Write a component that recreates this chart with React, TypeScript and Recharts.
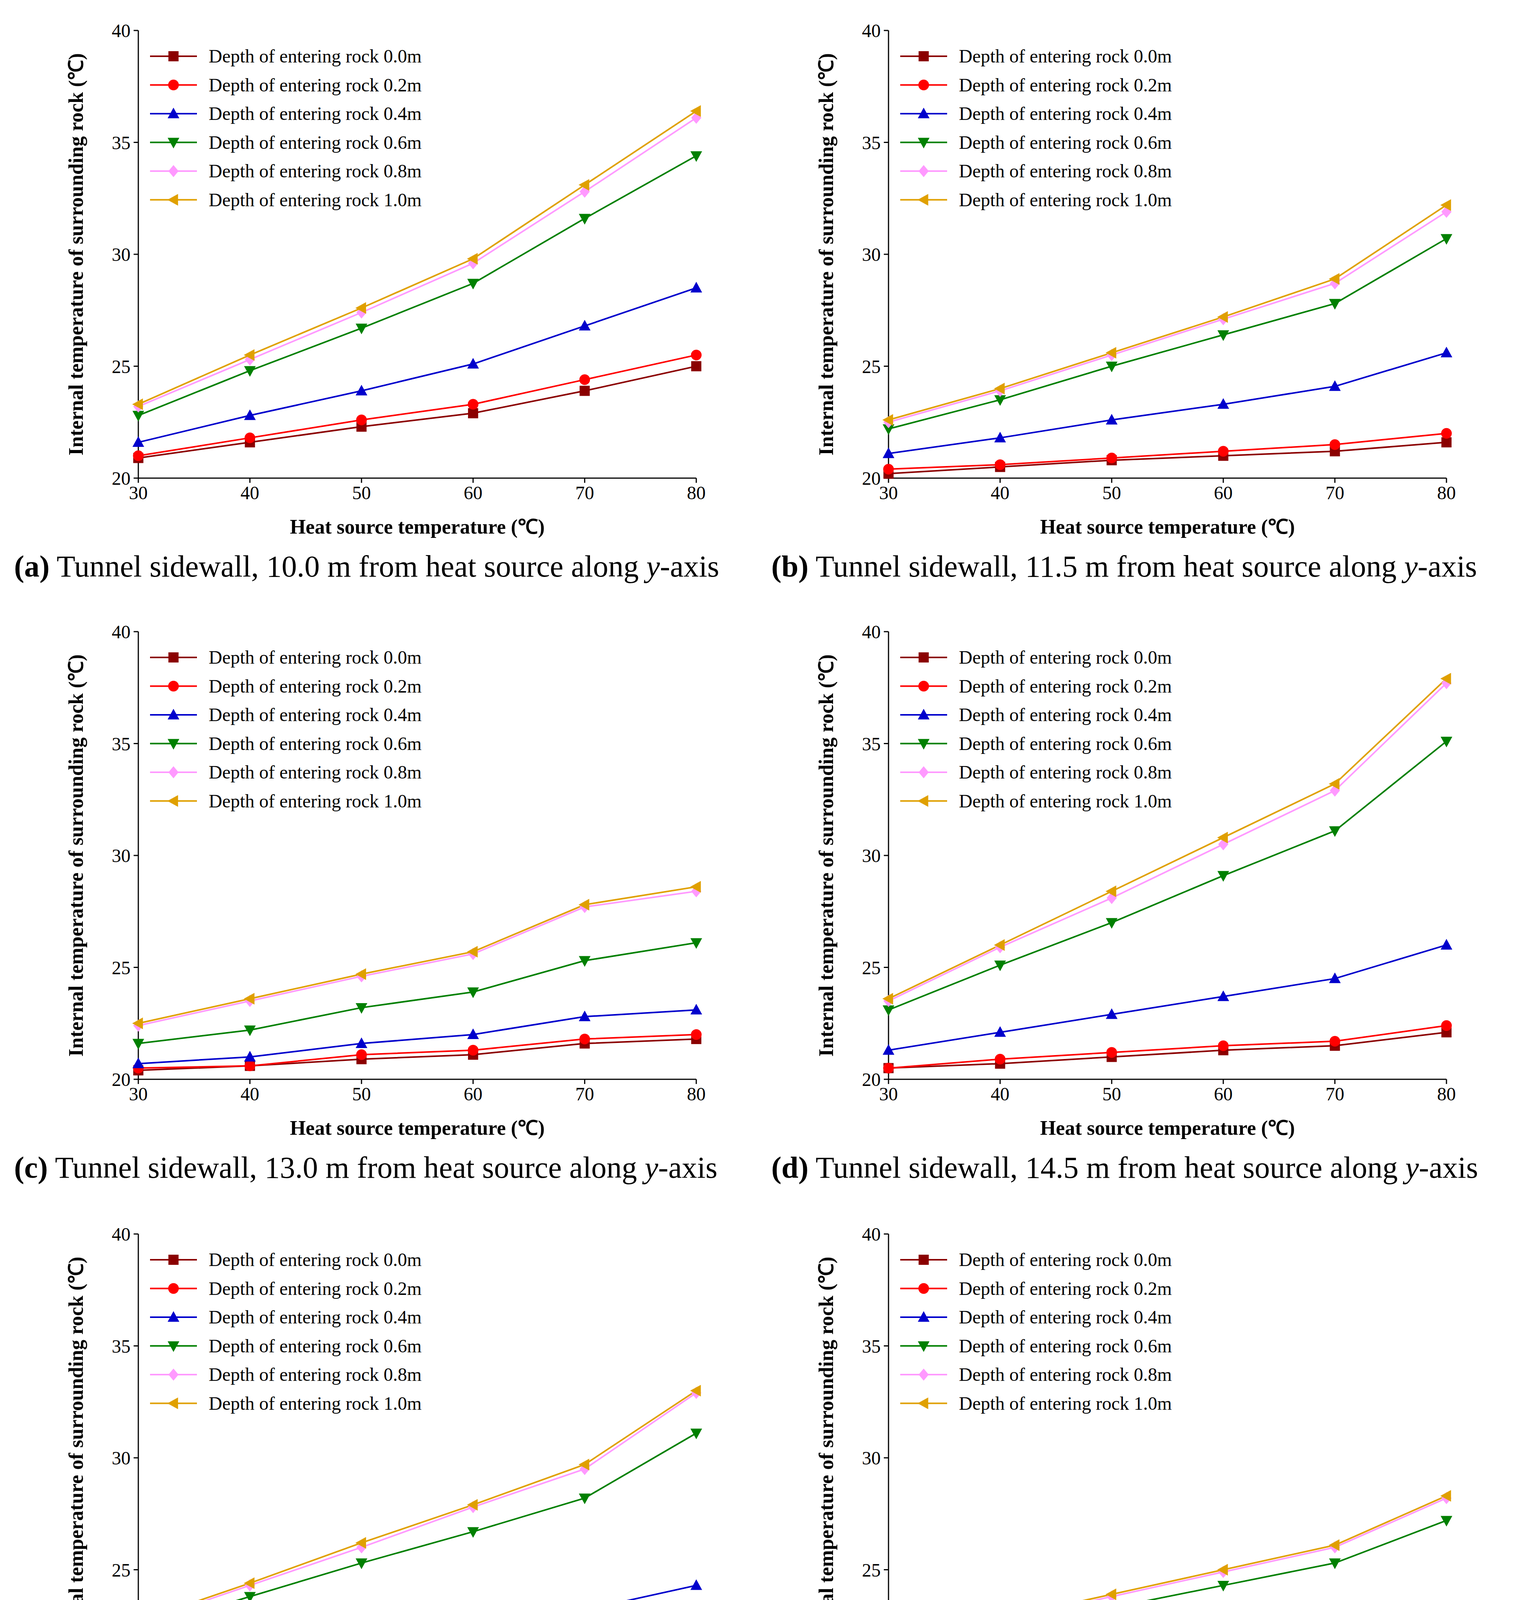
import React from 'react';
import { LineChart, Line, XAxis, YAxis, Label } from 'recharts';

const xTemps = [30, 40, 50, 60, 70, 80];
const depthNames = ['Depth of entering rock 0.0m', 'Depth of entering rock 0.2m', 'Depth of entering rock 0.4m', 'Depth of entering rock 0.6m', 'Depth of entering rock 0.8m', 'Depth of entering rock 1.0m'];
const colors = ['#8B0000', '#FF0000', '#0000CC', '#008000', '#FF99FF', '#E0A000'];
const shapes = ['square', 'circle', 'up', 'down', 'diamond', 'left'];
const yTicks = [20, 25, 30, 35, 40];

const panelA = [
  [20.9, 21.6, 22.3, 22.9, 23.9, 25.0],
  [21.0, 21.8, 22.6, 23.3, 24.4, 25.5],
  [21.6, 22.8, 23.9, 25.1, 26.8, 28.5],
  [22.8, 24.8, 26.7, 28.7, 31.6, 34.4],
  [23.2, 25.3, 27.4, 29.6, 32.8, 36.1],
  [23.3, 25.5, 27.6, 29.8, 33.1, 36.4],
];
const panelB = [
  [20.2, 20.5, 20.8, 21.0, 21.2, 21.6],
  [20.4, 20.6, 20.9, 21.2, 21.5, 22.0],
  [21.1, 21.8, 22.6, 23.3, 24.1, 25.6],
  [22.2, 23.5, 25.0, 26.4, 27.8, 30.7],
  [22.5, 23.9, 25.5, 27.1, 28.7, 31.9],
  [22.6, 24.0, 25.6, 27.2, 28.9, 32.2],
];
const panelC = [
  [20.4, 20.6, 20.9, 21.1, 21.6, 21.8],
  [20.5, 20.6, 21.1, 21.3, 21.8, 22.0],
  [20.7, 21.0, 21.6, 22.0, 22.8, 23.1],
  [21.6, 22.2, 23.2, 23.9, 25.3, 26.1],
  [22.4, 23.5, 24.6, 25.6, 27.7, 28.4],
  [22.5, 23.6, 24.7, 25.7, 27.8, 28.6],
];
const panelD = [
  [20.5, 20.7, 21.0, 21.3, 21.5, 22.1],
  [20.5, 20.9, 21.2, 21.5, 21.7, 22.4],
  [21.3, 22.1, 22.9, 23.7, 24.5, 26.0],
  [23.1, 25.1, 27.0, 29.1, 31.1, 35.1],
  [23.5, 25.9, 28.1, 30.5, 32.9, 37.7],
  [23.6, 26.0, 28.4, 30.8, 33.2, 37.9],
];
const panelE = [
  [20.4, 20.6, 20.8, 21.1, 21.3, 21.7],
  [20.5, 20.7, 20.9, 21.2, 21.4, 21.9],
  [20.9, 21.5, 22.0, 22.6, 23.2, 24.3],
  [22.3, 23.8, 25.3, 26.7, 28.2, 31.1],
  [22.6, 24.3, 26.0, 27.8, 29.5, 32.9],
  [22.7, 24.4, 26.2, 27.9, 29.7, 33.0],
];
const panelF = [
  [20.3, 20.5, 20.7, 20.9, 21.2, 21.6],
  [20.4, 20.6, 20.8, 21.1, 21.3, 21.8],
  [20.7, 21.1, 21.6, 22.0, 22.5, 23.3],
  [21.5, 22.4, 23.3, 24.3, 25.3, 27.2],
  [21.7, 22.7, 23.8, 24.9, 26.0, 28.2],
  [21.7, 22.8, 23.9, 25.0, 26.1, 28.3],
];
const captions = [
  ['(a)', ' Tunnel sidewall, 10.0 m from heat source along '],
  ['(b)', ' Tunnel sidewall, 11.5 m from heat source along '],
  ['(c)', ' Tunnel sidewall, 13.0 m from heat source along '],
  ['(d)', ' Tunnel sidewall, 14.5 m from heat source along '],
  ['(e)', ' Tunnel sidewall, 16.0 m from heat source along '],
  ['(f)', ' Tunnel sidewall, 17.5 m from heat source along '],
];
const panels = [panelA, panelB, panelC, panelD, panelE, panelF];

const FONT = '"Liberation Serif", "Times New Roman", serif';

function marker(shape: string, cx: number, cy: number, color: string, r: number) {
  if (cx == null || cy == null) return null;
  switch (shape) {
    case 'square':
      return <rect x={cx - r} y={cy - r} width={2 * r} height={2 * r} fill={color} />;
    case 'circle':
      return <circle cx={cx} cy={cy} r={r * 1.05} fill={color} />;
    case 'up':
      return <polygon points={`${cx},${cy - r * 1.2} ${cx - r * 1.15},${cy + r * 0.9} ${cx + r * 1.15},${cy + r * 0.9}`} fill={color} />;
    case 'down':
      return <polygon points={`${cx},${cy + r * 1.2} ${cx - r * 1.15},${cy - r * 0.9} ${cx + r * 1.15},${cy - r * 0.9}`} fill={color} />;
    case 'diamond':
      return <polygon points={`${cx},${cy - r * 1.2} ${cx + r},${cy} ${cx},${cy + r * 1.2} ${cx - r},${cy}`} fill={color} />;
    default:
      return <polygon points={`${cx - r * 1.2},${cy} ${cx + r * 0.9},${cy - r * 1.15} ${cx + r * 0.9},${cy + r * 1.15}`} fill={color} />;
  }
}

const LegendBox = () => (
  <svg width={900} height={450}>
    {depthNames.map((n, i) => {
      const y = 26 + i * 73.5;
      return (
        <g key={i}>
          <line x1={0} x2={120} y1={y} y2={y} stroke={colors[i]} strokeWidth={4} />
          {marker(shapes[i], 60, y, colors[i], 13)}
          <text x={150} y={y + 16} fontSize={48} fontFamily={FONT} fill="#000">{n}</text>
        </g>
      );
    })}
  </svg>
);

function Panel({ idx }: { idx: number }) {
  const col = idx % 2;
  const row = Math.floor(idx / 2);
  const plotTops = [78, 1617, 3159];
  const chartTop = plotTops[row] - 78;
  const chartLeft = col === 0 ? 0 : 1950;
  const width = col === 0 ? 1950 : 1953;
  const plotLeft = col === 0 ? 354 : 324;
  const plotRight = col === 0 ? 168 : 201;
  const vals = panels[idx];
  const data = xTemps.map((x, j) => {
    const o: any = { x };
    vals.forEach((s, i) => (o['s' + i] = s[j]));
    return o;
  });
  const tick = { fontSize: 48, fontFamily: FONT, fill: '#000' };
  const axisLine = { stroke: '#000', strokeWidth: 3 };
  return (
    <div style={{ position: 'absolute', left: chartLeft, top: chartTop }}>
      <LineChart width={width} height={1400} data={data}
        margin={{ top: 78, right: plotRight, left: plotLeft - 120, bottom: 96 }}>
        <XAxis dataKey="x" type="number" domain={[30, 80]} ticks={xTemps} tick={tick}
          axisLine={axisLine} tickLine={{ stroke: '#000', strokeWidth: 3 }} tickSize={12} height={80} tickMargin={8}>
          <Label value="Heat source temperature (℃)" position="insideBottom" offset={-62}
            style={{ fontSize: 52, fontWeight: 'bold', fontFamily: FONT, fill: '#000' }} />
        </XAxis>
        <XAxis xAxisId="top" orientation="top" dataKey="x" type="number" domain={[30, 80]} ticks={xTemps}
          tick={false} axisLine={axisLine} tickLine={false} height={0} />
        <YAxis domain={[20, 40]} ticks={yTicks} tick={tick} width={120} axisLine={axisLine}
          tickLine={{ stroke: '#000', strokeWidth: 3 }} tickSize={12} tickMargin={8}>
          <Label value="Internal temperature of surrounding rock  (℃)" angle={-90} position="insideLeft"
            offset={-40} style={{ textAnchor: 'middle', fontSize: 52, fontWeight: 'bold', fontFamily: FONT, fill: '#000' }} />
        </YAxis>
        <YAxis yAxisId="right" orientation="right" domain={[20, 40]} tick={false} axisLine={axisLine}
          tickLine={false} width={0} />
        {vals.map((_, i) => (
          <Line key={i} dataKey={'s' + i} name={depthNames[i]} stroke={colors[i]} strokeWidth={4}
            isAnimationActive={false} legendType="none"
            dot={(p: any) => <g key={p.index}>{marker(shapes[i], p.cx, p.cy, colors[i], 13)}</g>} />
        ))}
      </LineChart>
      <div style={{ position: 'absolute', left: plotLeft + 30, top: 118 }}>
        <LegendBox />
      </div>
      <div style={{ position: 'absolute', left: col === 0 ? 36 : 24, top: 1533 - 78 - 50, whiteSpace: 'nowrap',
        fontFamily: FONT, fontSize: 78, color: '#000' }}>
        <b>{captions[idx][0]}</b>{captions[idx][1]}<i>y</i>-axis
      </div>
    </div>
  );
}

export default function App() {
  return (
    <div style={{ position: 'relative', width: 3903, height: 4687, marginLeft: -8, marginTop: -8, background: '#fff' }}>
      {[0, 1, 2, 3, 4, 5].map(i => <Panel key={i} idx={i} />)}
    </div>
  );
}
